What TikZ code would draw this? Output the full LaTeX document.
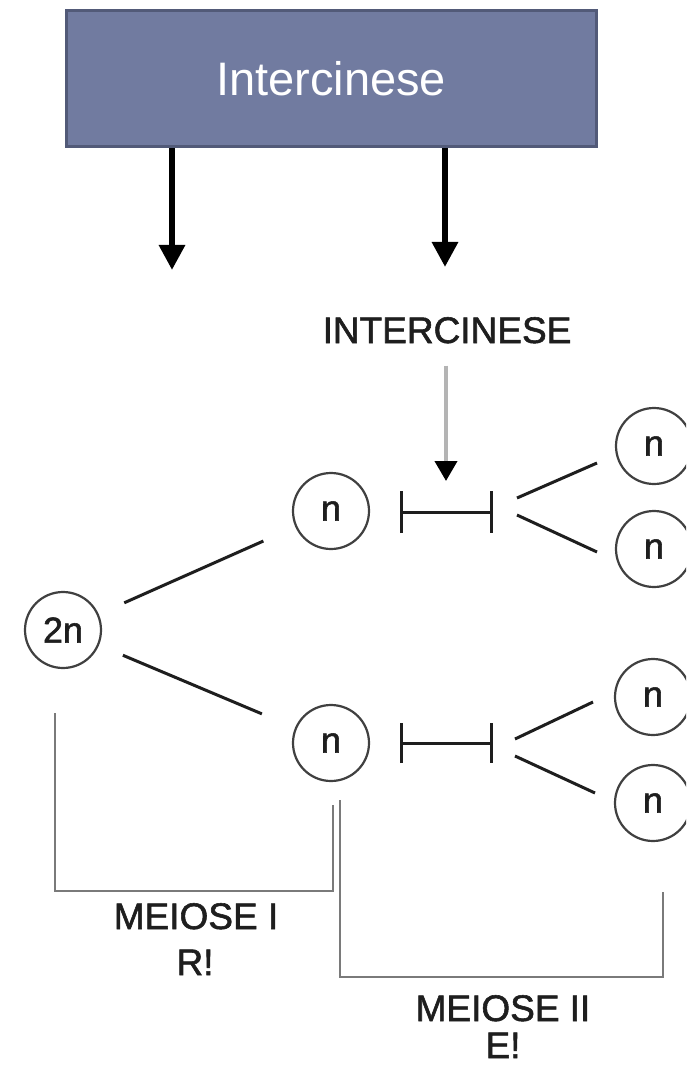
\documentclass[tikz,border=0pt]{standalone}
\usepackage{fontspec}
\setmainfont{Liberation Sans}
\newfontfamily\heavysans[FakeBold=1.5]{Liberation Sans}
\usetikzlibrary{arrows.meta,calc}
\definecolor{boxfill}{HTML}{717BA0}
\definecolor{boxline}{HTML}{525A78}
\definecolor{ink}{HTML}{1E1E1E}
\definecolor{brk}{HTML}{7A7A7A}
\definecolor{gshaft}{HTML}{B4B4B4}
\begin{document}
\begin{tikzpicture}[x=1pt,y=-1pt,
  cell/.style={circle,draw=ink!85,line width=2.2pt,minimum size=76pt,inner sep=0pt,
               font=\heavysans\fontsize{36}{36}\selectfont,text=ink},
  lbl/.style={font=\heavysans\fontsize{37}{37}\selectfont,text=ink,inner sep=0pt,anchor=base},
  thinline/.style={draw=ink,line width=3pt},
  bracket/.style={draw=brk,line width=2pt},
  bigarrow/.style={draw=black,line width=6pt,-{Triangle[width=25pt,length=25pt]}}
]
\clip (0,0) rectangle (686,1067);
\fill[white] (0,0) rectangle (686,1067);
% title box
\node[draw=boxline,fill=boxfill,line width=3pt,minimum width=530pt,minimum height=136pt,
      inner sep=0pt,text=white,font=\fontsize{47}{47}\selectfont] (box) at (331,79) {Intercinese};
\coordinate (tL) at (172,270);
\coordinate (tR) at (445,267);
\draw[bigarrow] (box.south -| tL) -- (tL);
\draw[bigarrow] (box.south -| tR) -- (tR);
% intercinese label and grey arrow
\node[lbl] (inter) at (447,343) {INTERCINESE};
\coordinate (gtip) at (446,481);
\draw[draw=gshaft,line width=4pt,shorten <=22pt,-{Triangle[width=22pt,length=20pt,color=black]}]
  (inter.south -| gtip) -- (gtip);
% cells
\node[cell] (c2n) at (63,630) {2n};
\node[cell] (nU) at (331,511) {n};
\node[cell] (nL) at (331,743) {n};
\node[cell] (rU1) at (654,446) {n};
\node[cell] (rU2) at (654,549) {n};
\node[cell] (rL1) at (653,697) {n};
\node[cell] (rL2) at (653,803) {n};
% meiosis I lines
\draw[thinline,shorten <=67pt,shorten >=74pt] (c2n.center) -- (nU.center);
\draw[thinline,shorten <=65pt,shorten >=75pt] (c2n.center) -- (nL.center);
% interkinesis bars
\coordinate (bU1) at (400,512); \coordinate (bU2) at (493,512);
\coordinate (bL1) at (400,743); \coordinate (bL2) at (493,743);
\draw[thinline,{Bar[width=42pt]}-{Bar[width=42pt]}] (bU1) -- (bU2);
\draw[thinline,{Bar[width=40pt]}-{Bar[width=40pt]}] (bL1) -- (bL2);
% meiosis II lines
\coordinate (dU1a) at (517,498); \coordinate (dU1b) at (597,463);
\coordinate (dU2a) at (517,515); \coordinate (dU2b) at (597,552);
\coordinate (dL1a) at (515,739); \coordinate (dL1b) at (593,702);
\coordinate (dL2a) at (515,756); \coordinate (dL2b) at (595,793);
\draw[thinline] (dU1a) -- (dU1b);
\draw[thinline] (dU2a) -- (dU2b);
\draw[thinline] (dL1a) -- (dL1b);
\draw[thinline] (dL2a) -- (dL2b);
% brackets
\coordinate (m1a) at (55,713); \coordinate (m1b) at (333,805);
\coordinate (m2a) at (340,800); \coordinate (m2b) at (663,892);
\draw[bracket] (m1a) -- ++(0,178) -| (m1b);
\draw[bracket] (m2a) -- ++(0,177) -| (m2b);
% labels
\node[lbl] (mI) at (196,929) {MEIOSE I};
\node[lbl] (rI) at (195,975) {R!};
\node[lbl] (mII) at (503,1021) {MEIOSE II};
\node[lbl] (eII) at (503,1058) {E!};
\end{tikzpicture}
\end{document}
